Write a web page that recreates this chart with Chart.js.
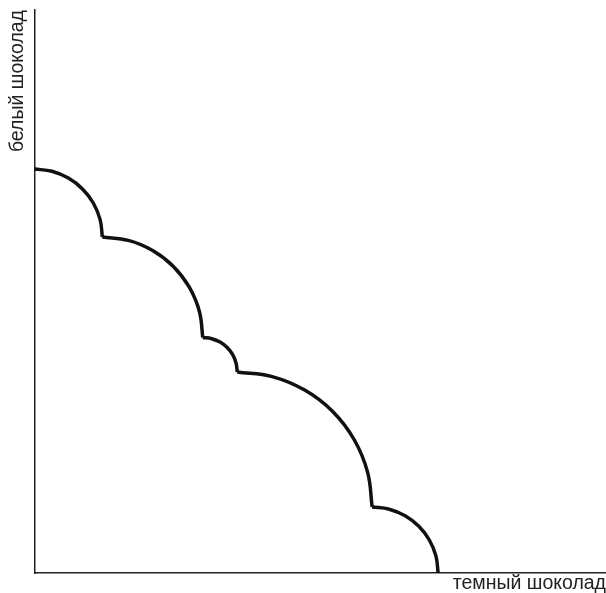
<!DOCTYPE html>
<html lang="ru">
<head>
  <meta charset="UTF-8">
  <title>Белый и темный шоколад</title>
  <script src="https://cdn.jsdelivr.net/npm/chart.js"></script>
  <style>
    body { margin: 0; padding: 0; background: #fff; }
    #wrap { width: 606px; height: 593px; }
  </style>
</head>
<body>
  <div id="wrap">
    <canvas id="ppf"></canvas>
  </div>

  <script>
    // точки кривой (x = темный, y = белый)
    const arc1 = [
      { x: 0, y: 404 }, { x: 17.6, y: 401.7 }, { x: 34, y: 394.9 }, { x: 48.1, y: 384.1 },
      { x: 58.9, y: 370 }, { x: 65.7, y: 353.6 }, { x: 68, y: 336 }
    ];
    const arc2 = [
      { x: 68, y: 336 }, { x: 94, y: 332.6 }, { x: 118.3, y: 322.5 }, { x: 139.1, y: 306.6 },
      { x: 155, y: 285.8 }, { x: 165.1, y: 261.5 }, { x: 168.5, y: 235.5 }
    ];
    const arc3 = [
      { x: 168.5, y: 235.5 }, { x: 177.4, y: 234.3 }, { x: 185.8, y: 230.9 }, { x: 192.9, y: 225.4 },
      { x: 198.4, y: 218.3 }, { x: 201.8, y: 209.9 }, { x: 203, y: 201 }
    ];
    const arc4 = [
      { x: 203, y: 201 }, { x: 237.9, y: 196.4 }, { x: 270.5, y: 182.9 }, { x: 298.5, y: 161.5 },
      { x: 319.9, y: 133.5 }, { x: 333.4, y: 100.9 }, { x: 338, y: 66 }
    ];
    const arc5 = [
      { x: 338, y: 66 }, { x: 355.1, y: 63.8 }, { x: 371, y: 57.2 }, { x: 384.7, y: 46.7 },
      { x: 395.2, y: 33 }, { x: 401.8, y: 17.1 }, { x: 404, y: 0 }
    ];
    const arcs = [arc1, arc2, arc3, arc4, arc5];

    const xTitle = 'темный шоколад';
    const yTitle = 'белый шоколад';

    const ctx = document.getElementById('ppf').getContext('2d');
    const chart = new Chart(ctx, {
      type: 'line',
      data: {
        datasets: arcs.map(a => ({
          data: a,
          borderColor: '#111',
          borderWidth: 3.5,
          pointRadius: 0,
          tension: 0.4,
          fill: false
        }))
      },
      options: {
        responsive: true,
        maintainAspectRatio: false,
        animation: false,
        layout: { padding: { top: 10, left: 1, right: 0, bottom: 0 } },
        plugins: {
          legend: { display: false },
          tooltip: { enabled: false }
        },
        scales: {
          x: {
            type: 'linear',
            min: 0,
            max: 572,
            grid: { display: false, drawTicks: false },
            border: { display: true, color: '#222', width: 1.5 },
            ticks: { display: false },
            title: {
              display: true,
              text: xTitle,
              align: 'end',
              color: '#222',
              font: { family: "'Liberation Sans', Arial, sans-serif", size: 19.5, lineHeight: 1 },
              padding: { top: 0.5, bottom: 0 }
            }
          },
          y: {
            type: 'linear',
            min: 0,
            max: 563,
            grid: { display: false, drawTicks: false },
            border: { display: true, color: '#222', width: 1.5 },
            ticks: { display: false },
            title: {
              display: true,
              text: yTitle,
              align: 'end',
              color: '#222',
              font: { family: "'Liberation Sans', Arial, sans-serif", size: 19.5, lineHeight: 1.2 },
              padding: { top: 5, bottom: 5 }
            }
          }
        }
      }
    });
  </script>
</body>
</html>
